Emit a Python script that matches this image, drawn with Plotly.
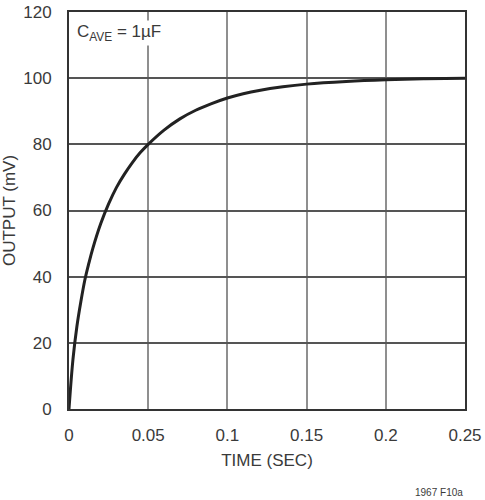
import plotly.graph_objects as go

time_sec = [0, 0.0025, 0.005, 0.0075, 0.01, 0.0125, 0.015, 0.02, 0.025, 0.03, 0.035,
            0.04, 0.045, 0.05, 0.06, 0.07, 0.08, 0.09, 0.1, 0.11, 0.12, 0.135,
            0.15, 0.175, 0.2, 0.225, 0.25]
output_mv = [0, 15, 25, 32.5, 39, 44, 48.5, 56, 62, 67, 71,
             74.5, 77.5, 80, 84.3, 87.7, 90.3, 92.3, 94, 95.3, 96.3, 97.4,
             98.2, 99.0, 99.5, 99.8, 100]
x_ticks = [0, 0.05, 0.1, 0.15, 0.2, 0.25]
x_tick_labels = ["0", "0.05", "0.1", "0.15", "0.2", "0.25"]
y_ticks = [0, 20, 40, 60, 80, 100, 120]

FONT = "Liberation Sans Narrow, Arial Narrow, Liberation Sans, sans-serif"
TXT = "#3a3a3a"

fig = go.Figure()
fig.add_trace(go.Scatter(x=time_sec, y=output_mv, mode="lines",
                         line=dict(color="#222222", width=3, shape="spline", smoothing=1.0),
                         showlegend=False, hoverinfo="skip"))

fig.update_layout(
    width=485, height=500,
    margin=dict(l=69, r=20, t=12, b=91),
    paper_bgcolor="white", plot_bgcolor="white",
    font=dict(family=FONT, color=TXT, size=17),
    xaxis=dict(range=[0, 0.25], tickvals=x_ticks, ticktext=x_tick_labels,
               showgrid=True, gridcolor="#8f8f8f", gridwidth=2,
               showline=True, linecolor="#333333", linewidth=2, mirror=True,
               zeroline=False, ticks="", ticklabelstandoff=10, automargin=False,
               title=dict(text="TIME (SEC)", standoff=10, font=dict(size=17))),
    yaxis=dict(range=[0, 120], tickvals=y_ticks,
               showgrid=True, gridcolor="#555555", gridwidth=1.5,
               showline=True, linecolor="#333333", linewidth=2, mirror=True,
               zeroline=False, ticks="", ticklabelstandoff=12, automargin=False,
               title=dict(text="OUTPUT (mV)", standoff=8, font=dict(size=17))),
    annotations=[
        dict(text="C<sub>AVE</sub> = 1µF", x=0.004, y=117.5, xref="x", yref="y",
             xanchor="left", yanchor="top", showarrow=False,
             font=dict(size=17, color=TXT), bgcolor="white"),
        dict(text="1967 F10a", x=1.0, y=-0.228, xref="paper", yref="paper",
             xanchor="right", yanchor="bottom", showarrow=False,
             font=dict(size=10, color=TXT)),
    ],
)

fig.write_html("out.html")
